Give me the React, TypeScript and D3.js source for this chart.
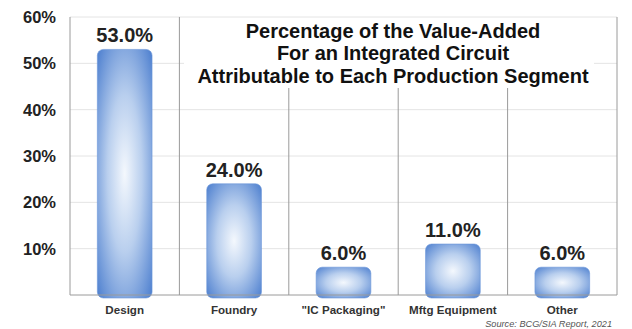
import React from "react";
import * as d3 from "d3";

const categories = ["Design", "Foundry", "\"IC Packaging\"", "Mftg Equipment", "Other"];
const values = [53.0, 24.0, 6.0, 11.0, 6.0];
const yTicks = [10, 20, 30, 40, 50, 60];
const titleLines = [
  "Percentage of the Value-Added",
  "For an Integrated Circuit",
  "Attributable to Each Production Segment",
];
const sourceText = "Source: BCG/SIA Report, 2021";

const W = 632;
const H = 329;
const left = 70;
const right = 617;
const top = 17;
const bottom = 295;

export default function App() {
  const x = d3.scaleBand<string>().domain(categories).range([left, right]).paddingInner(0).paddingOuter(0);
  const y = d3.scaleLinear().domain([0, 60]).range([bottom, top]);
  const bw = x.bandwidth() * 0.5;
  const font = "Liberation Sans, Arial, Helvetica, sans-serif";
  return (
    <svg width={W} height={H} style={{ position: "absolute", left: 0, top: 0, background: "#fff" }}>
      <defs>
        <radialGradient id="barGrad" cx="50%" cy="50%" r="70%" fx="50%" fy="50%">
          <stop offset="0%" stopColor="#f4f8fd" />
          <stop offset="45%" stopColor="#b9cfee" />
          <stop offset="100%" stopColor="#4d7fcf" />
        </radialGradient>
      </defs>
      <rect x={0} y={0} width={W} height={H} fill="#fff" />
      {/* horizontal gridlines */}
      {yTicks.map((t) => (
        <line key={"g" + t} x1={left} x2={right} y1={y(t)} y2={y(t)} stroke="#e4e4e4" strokeWidth={1} />
      ))}
      {/* vertical separators */}
      {categories.map((c, i) => (
        <line key={"v" + i} x1={(x(c) as number) + x.bandwidth()} x2={(x(c) as number) + x.bandwidth()}
          y1={i === 0 || i === categories.length - 1 ? top : 88} y2={bottom} stroke="#9a9a9a" strokeWidth={1} />
      ))}
      <line x1={left} x2={left} y1={top} y2={bottom} stroke="#9a9a9a" strokeWidth={1} />
      {/* title box */}
      <rect x={184} y={top + 2} width={410} height={68} fill="#fff" />
      {titleLines.map((t, i) => (
        <text key={"t" + i} x={393} y={37.5 + i * 22.5} textAnchor="middle" fontFamily={font} fontWeight="bold" fontSize={20} fill="#111">
          {t}
        </text>
      ))}
      {/* y tick labels */}
      {yTicks.map((t) => (
        <text key={"y" + t} x={56} y={y(t) + 6} textAnchor="end" fontFamily={font} fontWeight="bold" fontSize={16.5} fill="#222">
          {t}%
        </text>
      ))}
      {/* bars */}
      {categories.map((c, i) => {
        const cx = (x(c) as number) + x.bandwidth() / 2;
        const yt = y(values[i]);
        const h = bottom - yt;
        return (
          <g key={"b" + i}>
            <rect x={cx - bw / 2} y={yt} width={bw} height={h + 3} rx={6} ry={6} fill="url(#barGrad)" stroke="#6a95d8" strokeWidth={0.6} />
            <text x={cx} y={yt - 7} textAnchor="middle" fontFamily={font} fontWeight="bold" fontSize={20} fill="#222">
              {values[i].toFixed(1)}%
            </text>
            <text x={cx} y={314} textAnchor="middle" fontFamily={font} fontWeight="bold" fontSize={11.6} fill="#333">
              {c}
            </text>
          </g>
        );
      })}
      <line x1={left} x2={right} y1={bottom} y2={bottom} stroke="#9a9a9a" strokeWidth={1} />
      <text x={612} y={327} textAnchor="end" fontFamily={font} fontStyle="italic" fontSize={9.2} fill="#555">
        {sourceText}
      </text>
    </svg>
  );
}
